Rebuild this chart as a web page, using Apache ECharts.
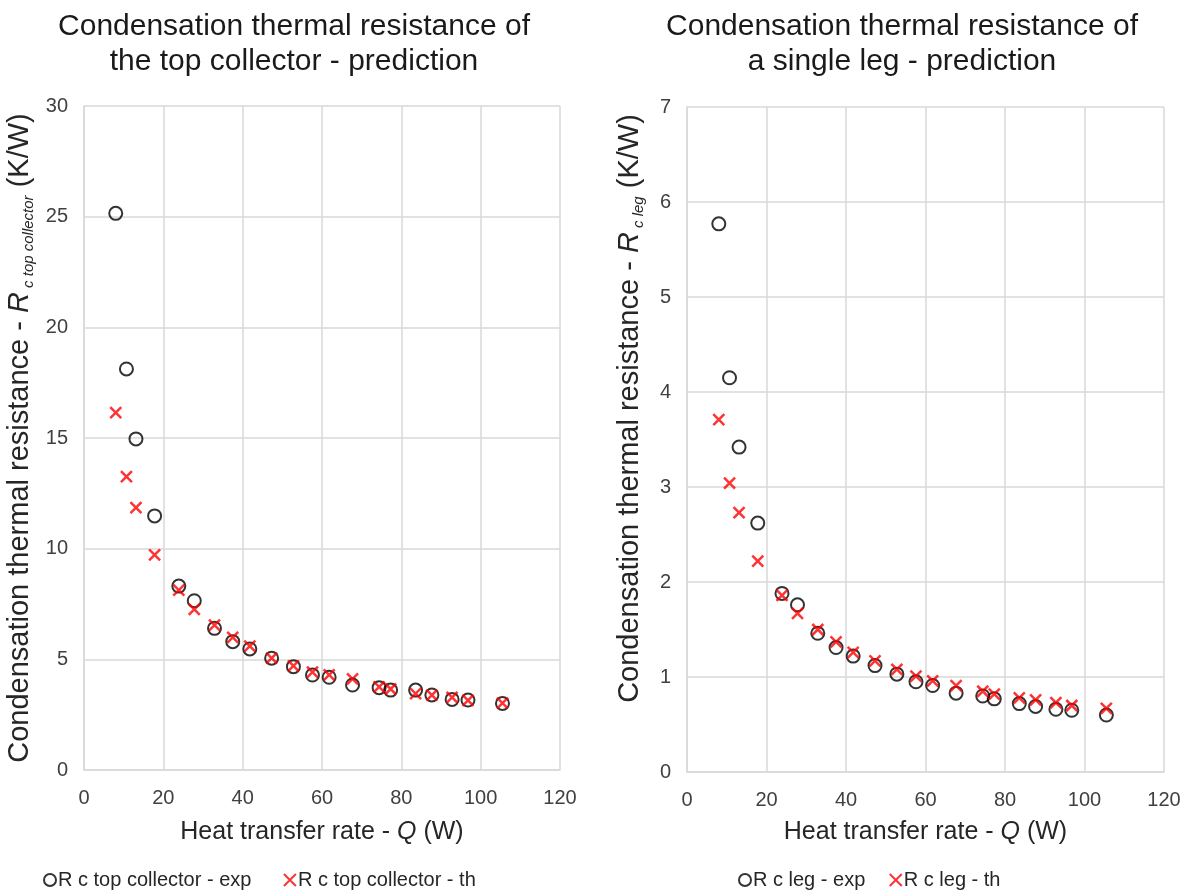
<!DOCTYPE html>
<html>
<head>
<meta charset="utf-8">
<script src="https://cdn.jsdelivr.net/npm/echarts@6/dist/echarts.min.js"></script>
<style>html,body{margin:0;padding:0;background:#fff;}#c{width:1192px;height:895px;}</style>
</head>
<body>
<div id="c"></div>
<script>
// Heat transfer rate Q (W), shared by both panels
const heatQ = [8.0, 10.7, 13.1, 17.8, 23.9, 27.8, 32.9, 37.5, 41.8, 47.3, 52.8, 57.6, 61.8, 67.7, 74.4, 77.3, 83.6, 87.7, 92.8, 96.8, 105.5];
// Left panel: top collector
const topExp = [25.15, 18.12, 14.96, 11.48, 8.31, 7.65, 6.40, 5.80, 5.47, 5.05, 4.67, 4.29, 4.19, 3.84, 3.72, 3.61, 3.61, 3.39, 3.19, 3.16, 3.01];
const topTh  = [16.15, 13.25, 11.85, 9.72, 8.13, 7.26, 6.55, 5.99, 5.60, 5.05, 4.70, 4.42, 4.30, 4.12, 3.76, 3.66, 3.45, 3.38, 3.28, 3.15, 3.02];
// Right panel: single leg
const legExp = [5.77, 4.15, 3.42, 2.62, 1.88, 1.76, 1.46, 1.31, 1.22, 1.12, 1.03, 0.95, 0.91, 0.83, 0.80, 0.77, 0.72, 0.69, 0.66, 0.65, 0.60];
const legTh  = [3.71, 3.04, 2.73, 2.22, 1.86, 1.67, 1.50, 1.37, 1.26, 1.17, 1.08, 1.01, 0.96, 0.91, 0.85, 0.82, 0.78, 0.76, 0.73, 0.70, 0.67];

const titles = ['Condensation thermal resistance of\nthe top collector - prediction', 'Condensation thermal resistance of\na single leg - prediction'];
const legendNames = [['R c top collector - exp', 'R c top collector - th'], ['R c leg - exp', 'R c leg - th']];

const pair = (xs, ys) => xs.map((x, i) => [x, ys[i]]);
const FONT = 'Liberation Sans, Arial, sans-serif';
const crossPath = 'path://M0,0L10,10M10,0L0,10';

const gridStyle = { lineStyle: { color: '#d9d9d9', width: 1.5 } };
function xAxisFor(gi, gap) {
  return {
    type: 'value', gridIndex: gi, min: 0, max: 120, interval: 20,
    axisLine: { show: true, lineStyle: { color: '#d9d9d9', width: 1.5 } },
    axisTick: { show: false },
    splitLine: gridStyle,
    axisLabel: { color: '#404040', fontSize: 20, fontFamily: FONT, margin: 18 },
    name: '{a|Heat transfer rate - }{i|Q}{a| (W)}',
    nameLocation: 'middle', nameGap: gap,
    nameTextStyle: { rich: {
      a: { fontSize: 25, fontFamily: FONT, color: '#262626' },
      i: { fontSize: 25, fontFamily: FONT, color: '#262626', fontStyle: 'italic' }
    } }
  };
}
function yAxisFor(gi, max, interval, sub, gap, shift) {
  return {
    type: 'value', gridIndex: gi, min: 0, max: max, interval: interval,
    axisLine: { show: true, lineStyle: { color: '#d9d9d9', width: 1.5 } },
    axisTick: { show: false },
    splitLine: gridStyle,
    axisLabel: { color: '#404040', fontSize: 20, fontFamily: FONT, margin: 16 },
    name: '{a|Condensation thermal resistance - }{i|R}{s| ' + sub + '}{a| (K/W)}',
    nameLocation: 'middle', nameGap: gap, nameRotate: 90,
    nameTextStyle: { padding: [0, 0, 0, shift], rich: {
      a: { fontSize: 29, fontFamily: FONT, color: '#262626', lineHeight: 33 },
      i: { fontSize: 29, fontFamily: FONT, color: '#262626', fontStyle: 'italic', lineHeight: 33 },
      s: { fontSize: 15, fontFamily: FONT, color: '#262626', fontStyle: 'italic', verticalAlign: 'bottom', lineHeight: 18 }
    } }
  };
}
function expSeries(name, gi, data) {
  return {
    name: name, type: 'scatter', xAxisIndex: gi, yAxisIndex: gi,
    data: data, symbol: 'circle', symbolSize: 13,
    itemStyle: { color: 'rgba(0,0,0,0)', borderColor: '#000000', borderWidth: 2 },
    emphasis: { disabled: true }
  };
}
function thSeries(name, gi, data) {
  return {
    name: name, type: 'scatter', xAxisIndex: gi, yAxisIndex: gi,
    data: data, symbol: crossPath, symbolSize: 11,
    itemStyle: { color: 'none', borderColor: '#ff0000', borderWidth: 2.5 },
    emphasis: { disabled: true }
  };
}

const chart = echarts.init(document.getElementById('c'), null, { renderer: 'canvas' });
chart.setOption({
  animation: false,
  backgroundColor: '#ffffff',
  title: [
    { text: titles[0], left: 289, top: 4, textAlign: 'center',
      textStyle: { fontSize: 30, fontWeight: 'normal', fontFamily: FONT, color: '#1a1a1a', lineHeight: 35 } },
    { text: titles[1], left: 897, top: 4, textAlign: 'center',
      textStyle: { fontSize: 30, fontWeight: 'normal', fontFamily: FONT, color: '#1a1a1a', lineHeight: 35 } }
  ],
  legend: [
    { data: legendNames[0], left: 38, top: 865, itemWidth: 12, itemHeight: 12, itemGap: 30,
      textStyle: { fontSize: 20, fontFamily: FONT, color: '#262626', padding: [0, 0, 0, -3] } },
    { data: legendNames[1], left: 733, top: 865, itemWidth: 12, itemHeight: 12, itemGap: 22,
      textStyle: { fontSize: 20, fontFamily: FONT, color: '#262626', padding: [0, 0, 0, -3] } }
  ],
  grid: [
    { left: 84, right: 632, top: 106, bottom: 125 },
    { left: 687, right: 28, top: 107, bottom: 123 }
  ],
  xAxis: [xAxisFor(0, 50), xAxisFor(1, 48)],
  yAxis: [yAxisFor(0, 30, 5, 'c top collector', 48, 0), yAxisFor(1, 7, 1, 'c leg', 41, 62)],
  series: [
    expSeries(legendNames[0][0], 0, pair(heatQ, topExp)),
    thSeries(legendNames[0][1], 0, pair(heatQ, topTh)),
    expSeries(legendNames[1][0], 1, pair(heatQ, legExp)),
    thSeries(legendNames[1][1], 1, pair(heatQ, legTh))
  ]
});
</script>
</body>
</html>
